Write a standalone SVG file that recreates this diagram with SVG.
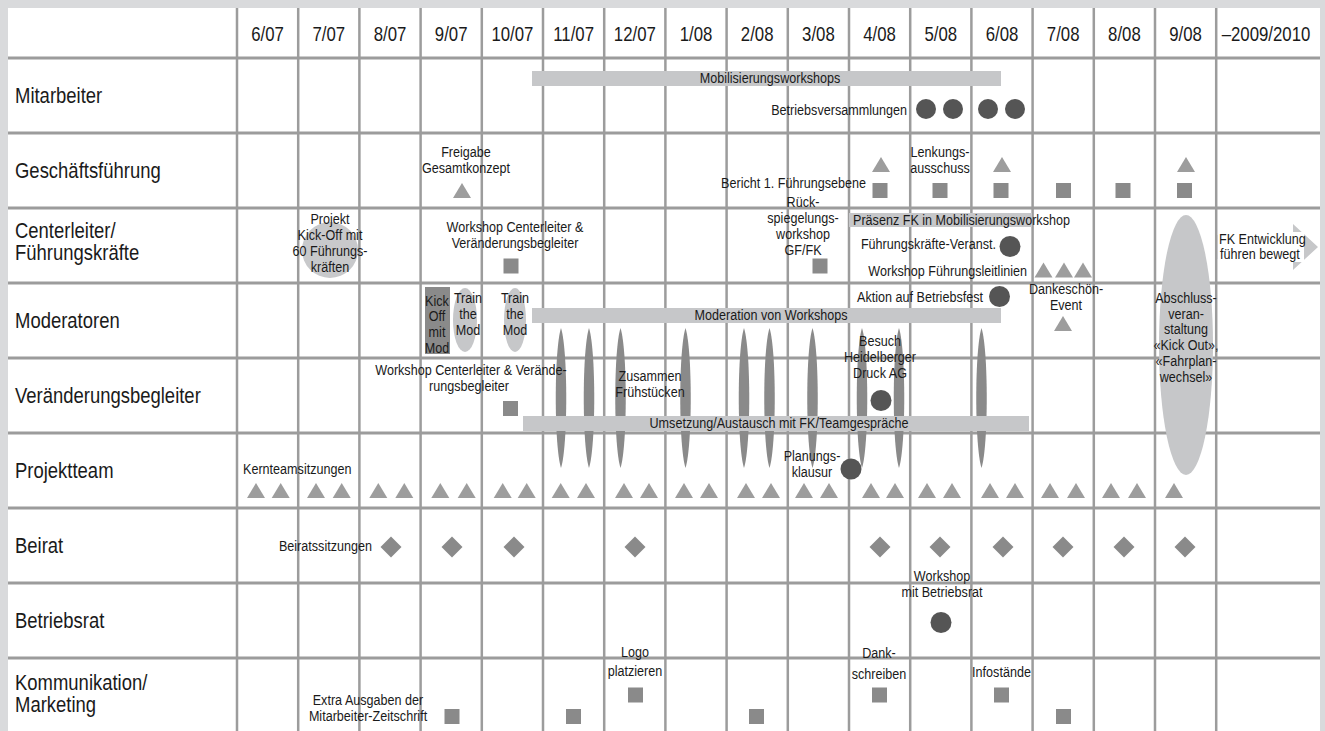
<svg xmlns="http://www.w3.org/2000/svg" xmlns:xlink="http://www.w3.org/1999/xlink" width="1325" height="731" viewBox="0 0 1325 731">
<style>
text{font-family:"Liberation Sans",Arial,sans-serif;fill:#1a1a1a}
.hdr{font-size:20px;text-anchor:middle}
.lbl{font-size:22px}
.t{font-size:15px}
.m{text-anchor:middle}
.e{text-anchor:end}
.gl{stroke:#9c9c9c;stroke-width:2.5}
.gh{stroke:#9c9c9c;stroke-width:3}
.bar{fill:#c6c7c9}
.sq{fill:#8a8a8a}
.tr{fill:#9d9d9d}
.dk{fill:#555}
.sp{fill:#8a8a8a}
</style>
<defs>
<path id="tri" d="M0,-7.5 L9,7.5 L-9,7.5 Z"/>
<rect id="sqr" x="-7.5" y="-7.5" width="15" height="15"/>
<path id="dia" d="M0,-10.5 L10.5,0 L0,10.5 L-10.5,0 Z"/>
<path id="spin" d="M0,0 C7,22 7,118 0,140 C-7,118 -7,22 0,0 Z"/>
</defs>
<rect width="1325" height="731" fill="#d9dadc"/>
<rect x="8" y="8" width="1312" height="723" fill="#fff"/>

<g id="grid">
<g class="gl">
<line x1="237" y1="8" x2="237" y2="731"/>
<line x1="298.2" y1="8" x2="298.2" y2="731"/>
<line x1="359.4" y1="8" x2="359.4" y2="731"/>
<line x1="420.6" y1="8" x2="420.6" y2="731"/>
<line x1="481.8" y1="8" x2="481.8" y2="731"/>
<line x1="543" y1="8" x2="543" y2="731"/>
<line x1="604.2" y1="8" x2="604.2" y2="731"/>
<line x1="665.4" y1="8" x2="665.4" y2="731"/>
<line x1="726.6" y1="8" x2="726.6" y2="731"/>
<line x1="787.8" y1="8" x2="787.8" y2="731"/>
<line x1="849" y1="8" x2="849" y2="731"/>
<line x1="910.2" y1="8" x2="910.2" y2="731"/>
<line x1="971.4" y1="8" x2="971.4" y2="731"/>
<line x1="1032.6" y1="8" x2="1032.6" y2="731"/>
<line x1="1093.8" y1="8" x2="1093.8" y2="731"/>
<line x1="1155" y1="8" x2="1155" y2="731"/>
<line x1="1216.2" y1="8" x2="1216.2" y2="731"/>
</g>
<g class="gh">
<line x1="8" y1="58" x2="1320" y2="58"/>
<line x1="8" y1="133" x2="1320" y2="133"/>
<line x1="8" y1="208" x2="1320" y2="208"/>
<line x1="8" y1="283" x2="1320" y2="283"/>
<line x1="8" y1="358" x2="1320" y2="358"/>
<line x1="8" y1="433" x2="1320" y2="433"/>
<line x1="8" y1="508" x2="1320" y2="508"/>
<line x1="8" y1="583" x2="1320" y2="583"/>
<line x1="8" y1="658" x2="1320" y2="658"/>
</g>
</g>

<g id="header">
<text class="hdr" transform="translate(267.6,41) scale(.84,1)">6/07</text>
<text class="hdr" transform="translate(328.8,41) scale(.84,1)">7/07</text>
<text class="hdr" transform="translate(390,41) scale(.84,1)">8/07</text>
<text class="hdr" transform="translate(451.2,41) scale(.84,1)">9/07</text>
<text class="hdr" transform="translate(512.4,41) scale(.84,1)">10/07</text>
<text class="hdr" transform="translate(573.6,41) scale(.84,1)">11/07</text>
<text class="hdr" transform="translate(634.8,41) scale(.84,1)">12/07</text>
<text class="hdr" transform="translate(696,41) scale(.84,1)">1/08</text>
<text class="hdr" transform="translate(757.2,41) scale(.84,1)">2/08</text>
<text class="hdr" transform="translate(818.4,41) scale(.84,1)">3/08</text>
<text class="hdr" transform="translate(879.6,41) scale(.84,1)">4/08</text>
<text class="hdr" transform="translate(940.8,41) scale(.84,1)">5/08</text>
<text class="hdr" transform="translate(1002,41) scale(.84,1)">6/08</text>
<text class="hdr" transform="translate(1063.2,41) scale(.84,1)">7/08</text>
<text class="hdr" transform="translate(1124.4,41) scale(.84,1)">8/08</text>
<text class="hdr" transform="translate(1185.6,41) scale(.84,1)">9/08</text>
<text class="hdr" transform="translate(1266,41) scale(.84,1)">–2009/2010</text>
</g>

<g id="row-labels">
<text class="lbl" transform="translate(15,103) scale(.84,1)">Mitarbeiter</text>
<text class="lbl" transform="translate(15,178) scale(.84,1)">Geschäftsführung</text>
<text class="lbl" transform="translate(15,238) scale(.84,1)">Centerleiter/</text>
<text class="lbl" transform="translate(15,260) scale(.84,1)">Führungskräfte</text>
<text class="lbl" transform="translate(15,328) scale(.84,1)">Moderatoren</text>
<text class="lbl" transform="translate(15,403) scale(.84,1)">Veränderungsbegleiter</text>
<text class="lbl" transform="translate(15,478) scale(.84,1)">Projektteam</text>
<text class="lbl" transform="translate(15,553) scale(.84,1)">Beirat</text>
<text class="lbl" transform="translate(15,628) scale(.84,1)">Betriebsrat</text>
<text class="lbl" transform="translate(15,690) scale(.84,1)">Kommunikation/</text>
<text class="lbl" transform="translate(15,712) scale(.84,1)">Marketing</text>
</g>

<g id="abschluss-shape"><ellipse cx="1186" cy="345" rx="27" ry="130" class="bar"/></g>

<g id="spindles" class="sp">
<use xlink:href="#spin" x="561" y="328"/>
<use xlink:href="#spin" x="589" y="328"/>
<use xlink:href="#spin" x="620.5" y="328"/>
<use xlink:href="#spin" x="685.5" y="328"/>
<use xlink:href="#spin" x="744" y="328"/>
<use xlink:href="#spin" x="769.5" y="328"/>
<use xlink:href="#spin" x="812.5" y="328"/>
<use xlink:href="#spin" x="862" y="328"/>
<use xlink:href="#spin" x="899" y="328"/>
<use xlink:href="#spin" x="981.5" y="328"/>
</g>

<g id="mobilisierungsworkshops">
<rect class="bar" x="532" y="71" width="469" height="15"/>
<text class="t m" transform="translate(770,83) scale(.84,1)">Mobilisierungsworkshops</text>
</g>
<g id="betriebsversammlungen">
<text class="t e" transform="translate(907,115) scale(.84,1)">Betriebsversammlungen</text>
<circle class="dk" cx="926" cy="109" r="10"/>
<circle class="dk" cx="953" cy="109" r="10"/>
<circle class="dk" cx="988" cy="109" r="10"/>
<circle class="dk" cx="1015" cy="109" r="10"/>
</g>

<g id="freigabe">
<text class="t m" transform="translate(466,157) scale(.84,1)">Freigabe</text>
<text class="t m" transform="translate(466,173) scale(.84,1)">Gesamtkonzept</text>
<use xlink:href="#tri" class="tr" x="462" y="190.5"/>
</g>
<g id="lenkungsausschuss">
<text class="t m" transform="translate(940,157) scale(.84,1)">Lenkungs-</text>
<text class="t m" transform="translate(940,173) scale(.84,1)">ausschuss</text>
<use xlink:href="#tri" class="tr" x="881" y="164.5"/>
<use xlink:href="#tri" class="tr" x="1002" y="164.5"/>
<use xlink:href="#tri" class="tr" x="1186" y="164.5"/>
</g>
<g id="bericht">
<text class="t e" transform="translate(866,188) scale(.84,1)">Bericht 1. Führungsebene</text>
<use xlink:href="#sqr" class="sq" x="880" y="190.5"/>
<use xlink:href="#sqr" class="sq" x="940" y="190.5"/>
<use xlink:href="#sqr" class="sq" x="1001" y="190.5"/>
<use xlink:href="#sqr" class="sq" x="1063.5" y="190.5"/>
<use xlink:href="#sqr" class="sq" x="1123" y="190.5"/>
<use xlink:href="#sqr" class="sq" x="1184.5" y="190.5"/>
</g>

<g id="kickoff">
<circle cx="330" cy="250" r="28" fill="#c8c9cb"/>
<text class="t m" transform="translate(330,224) scale(.84,1)">Projekt</text>
<text class="t m" transform="translate(330,240) scale(.84,1)">Kick-Off mit</text>
<text class="t m" transform="translate(330,256) scale(.84,1)">60 Führungs-</text>
<text class="t m" transform="translate(330,272) scale(.84,1)">kräften</text>
</g>
<g id="workshop-cl">
<text class="t m" transform="translate(515,232) scale(.84,1)">Workshop Centerleiter &amp;</text>
<text class="t m" transform="translate(515,248) scale(.84,1)">Veränderungsbegleiter</text>
<use xlink:href="#sqr" class="sq" x="511" y="266"/>
</g>
<g id="rueckspiegelung">
<text class="t m" transform="translate(803,207) scale(.84,1)">Rück-</text>
<text class="t m" transform="translate(803,223) scale(.84,1)">spiegelungs-</text>
<text class="t m" transform="translate(803,239) scale(.84,1)">workshop</text>
<text class="t m" transform="translate(803,255) scale(.84,1)">GF/FK</text>
<use xlink:href="#sqr" class="sq" x="820" y="266"/>
</g>
<g id="praesenz">
<rect class="bar" x="849" y="213" width="183" height="14"/>
<text class="t" transform="translate(853,225) scale(.84,1)">Präsenz FK in Mobilisierungsworkshop</text>
</g>
<g id="fk-veranst">
<text class="t e" transform="translate(996,249) scale(.84,1)">Führungskräfte-Veranst.</text>
<circle class="dk" cx="1010" cy="246.5" r="10.5"/>
</g>
<g id="leitlinien">
<text class="t e" transform="translate(1027,276) scale(.84,1)">Workshop Führungsleitlinien</text>
<use xlink:href="#tri" class="tr" x="1043.5" y="270"/>
<use xlink:href="#tri" class="tr" x="1064" y="270"/>
<use xlink:href="#tri" class="tr" x="1083" y="270"/>
</g>
<g id="fk-entwicklung">
<polygon class="bar" points="1217,235 1293,235 1293,224 1318,247 1293,270 1293,259 1217,259"/>
<rect x="1218" y="232" width="86" height="30" fill="#fff"/>
<text class="t" transform="translate(1219,244) scale(.84,1)">FK Entwicklung</text>
<text class="t" transform="translate(1220,259) scale(.84,1)">führen bewegt</text>
</g>

<g id="kickoff-mod">
<rect x="425" y="287" width="25" height="67" fill="#8a8a8a"/>
<text class="t m" transform="translate(437,306) scale(.84,1)">Kick</text>
<text class="t m" transform="translate(437,321) scale(.84,1)">Off</text>
<text class="t m" transform="translate(437,337) scale(.84,1)">mit</text>
<text class="t m" transform="translate(437,353) scale(.84,1)">Mod</text>
</g>
<g id="train1">
<ellipse class="bar" cx="465" cy="320" rx="12" ry="32"/>
<text class="t m" transform="translate(468,303) scale(.84,1)">Train</text>
<text class="t m" transform="translate(468,319) scale(.84,1)">the</text>
<text class="t m" transform="translate(468,335) scale(.84,1)">Mod</text>
</g>
<g id="train2">
<ellipse class="bar" cx="515" cy="320" rx="11" ry="32"/>
<text class="t m" transform="translate(515,303) scale(.84,1)">Train</text>
<text class="t m" transform="translate(515,319) scale(.84,1)">the</text>
<text class="t m" transform="translate(515,335) scale(.84,1)">Mod</text>
</g>
<g id="moderation">
<rect class="bar" x="532" y="308" width="469" height="15"/>
<text class="t m" transform="translate(771,320) scale(.84,1)">Moderation von Workshops</text>
</g>
<g id="betriebsfest">
<text class="t e" transform="translate(983,302) scale(.84,1)">Aktion auf Betriebsfest</text>
<circle class="dk" cx="999.5" cy="296.5" r="10.5"/>
</g>
<g id="dankeschoen">
<text class="t m" transform="translate(1066,294) scale(.84,1)">Dankeschön-</text>
<text class="t m" transform="translate(1066,310) scale(.84,1)">Event</text>
<use xlink:href="#tri" class="tr" x="1063" y="323.5"/>
</g>
<g id="abschluss">
<text class="t m" transform="translate(1186,303) scale(.84,1)">Abschluss-</text>
<text class="t m" transform="translate(1186,319) scale(.84,1)">veran-</text>
<text class="t m" transform="translate(1186,334) scale(.84,1)">staltung</text>
<text class="t m" transform="translate(1186,350) scale(.84,1)">«Kick Out»,</text>
<text class="t m" transform="translate(1186,366) scale(.84,1)">«Fahrplan-</text>
<text class="t m" transform="translate(1186,382) scale(.84,1)">wechsel»</text>
</g>

<g id="workshop-vb">
<text class="t m" transform="translate(471,375) scale(.84,1)">Workshop Centerleiter &amp; Verände-</text>
<text class="t m" transform="translate(469,391) scale(.84,1)">rungsbegleiter</text>
<use xlink:href="#sqr" class="sq" x="510.5" y="408.5"/>
</g>
<g id="fruehstueck">
<text class="t m" transform="translate(650,381) scale(.84,1)">Zusammen</text>
<text class="t m" transform="translate(650,397) scale(.84,1)">Frühstücken</text>
</g>
<g id="umsetzung">
<rect class="bar" x="523" y="416" width="506" height="15"/>
<text class="t m" transform="translate(779,428) scale(.84,1)">Umsetzung/Austausch mit FK/Teamgespräche</text>
</g>
<g id="heidelberger">
<text class="t m" transform="translate(880,346) scale(.84,1)">Besuch</text>
<text class="t m" transform="translate(880,362) scale(.84,1)">Heidelberger</text>
<text class="t m" transform="translate(880,378) scale(.84,1)">Druck AG</text>
<circle class="dk" cx="881" cy="400.5" r="10.5"/>
</g>

<g id="kernteam">
<text class="t" transform="translate(243,474) scale(.84,1)">Kernteamsitzungen</text>
<g class="tr">
<use xlink:href="#tri" x="256" y="490.5"/><use xlink:href="#tri" x="280.7" y="490.5"/>
<use xlink:href="#tri" x="316" y="490.5"/><use xlink:href="#tri" x="341.7" y="490.5"/>
<use xlink:href="#tri" x="378.3" y="490.5"/><use xlink:href="#tri" x="404.3" y="490.5"/>
<use xlink:href="#tri" x="440.3" y="490.5"/><use xlink:href="#tri" x="466.7" y="490.5"/>
<use xlink:href="#tri" x="502.7" y="490.5"/><use xlink:href="#tri" x="526.7" y="490.5"/>
<use xlink:href="#tri" x="560.7" y="490.5"/><use xlink:href="#tri" x="586" y="490.5"/>
<use xlink:href="#tri" x="624" y="490.5"/><use xlink:href="#tri" x="649" y="490.5"/>
<use xlink:href="#tri" x="684" y="490.5"/><use xlink:href="#tri" x="709" y="490.5"/>
<use xlink:href="#tri" x="746" y="490.5"/><use xlink:href="#tri" x="771" y="490.5"/>
<use xlink:href="#tri" x="804" y="490.5"/><use xlink:href="#tri" x="829" y="490.5"/>
<use xlink:href="#tri" x="871" y="490.5"/><use xlink:href="#tri" x="895" y="490.5"/>
<use xlink:href="#tri" x="927" y="490.5"/><use xlink:href="#tri" x="952" y="490.5"/>
<use xlink:href="#tri" x="990" y="490.5"/><use xlink:href="#tri" x="1015" y="490.5"/>
<use xlink:href="#tri" x="1050" y="490.5"/><use xlink:href="#tri" x="1076" y="490.5"/>
<use xlink:href="#tri" x="1111" y="490.5"/><use xlink:href="#tri" x="1137" y="490.5"/>
<use xlink:href="#tri" x="1174" y="490.5"/>
</g>
</g>
<g id="planungsklausur">
<text class="t m" transform="translate(812,461) scale(.84,1)">Planungs-</text>
<text class="t m" transform="translate(812,477) scale(.84,1)">klausur</text>
<circle class="dk" cx="851" cy="469" r="10.5"/>
</g>

<g id="beiratssitzungen">
<text class="t e" transform="translate(372,551) scale(.84,1)">Beiratssitzungen</text>
<g class="sq">
<use xlink:href="#dia" x="391" y="547"/>
<use xlink:href="#dia" x="452" y="547"/>
<use xlink:href="#dia" x="514" y="547"/>
<use xlink:href="#dia" x="635" y="547"/>
<use xlink:href="#dia" x="880" y="547"/>
<use xlink:href="#dia" x="940" y="547"/>
<use xlink:href="#dia" x="1003" y="547"/>
<use xlink:href="#dia" x="1063" y="547"/>
<use xlink:href="#dia" x="1124" y="547"/>
<use xlink:href="#dia" x="1185" y="547"/>
</g>
</g>

<g id="workshop-br">
<text class="t m" transform="translate(942,581) scale(.84,1)">Workshop</text>
<text class="t m" transform="translate(942,597) scale(.84,1)">mit Betriebsrat</text>
<circle class="dk" cx="941" cy="622.5" r="10.5"/>
</g>

<g id="extra-ausgaben">
<text class="t m" transform="translate(368,705) scale(.84,1)">Extra Ausgaben der</text>
<text class="t m" transform="translate(368,721) scale(.84,1)">Mitarbeiter-Zeitschrift</text>
<use xlink:href="#sqr" class="sq" x="452" y="716.5"/>
<use xlink:href="#sqr" class="sq" x="573.5" y="716.5"/>
<use xlink:href="#sqr" class="sq" x="756.5" y="716.5"/>
<use xlink:href="#sqr" class="sq" x="1063.5" y="716.5"/>
</g>
<g id="logo">
<text class="t m" transform="translate(635,657) scale(.84,1)">Logo</text>
<text class="t m" transform="translate(635,676) scale(.84,1)">platzieren</text>
<use xlink:href="#sqr" class="sq" x="635.5" y="695"/>
</g>
<g id="dankschreiben">
<text class="t m" transform="translate(879,658) scale(.84,1)">Dank-</text>
<text class="t m" transform="translate(879,679) scale(.84,1)">schreiben</text>
<use xlink:href="#sqr" class="sq" x="879.5" y="695"/>
</g>
<g id="infostaende">
<text class="t m" transform="translate(1001.5,677) scale(.84,1)">Infostände</text>
<use xlink:href="#sqr" class="sq" x="1001.5" y="695"/>
</g>
<g id="connectors"/>
</svg>
